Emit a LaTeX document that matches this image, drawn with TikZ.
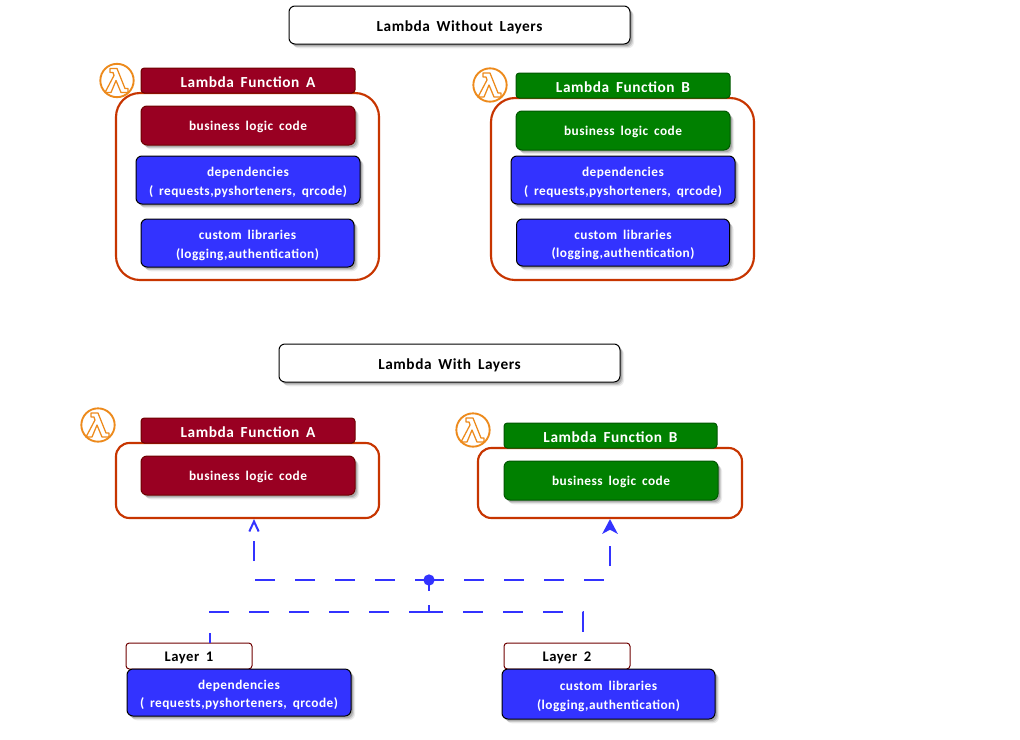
\documentclass[tikz,border=0pt]{standalone}
\usepackage{fontspec}
\setmainfont[LetterSpace=3.5,WordSpace=1.7]{Carlito}
\usetikzlibrary{arrows.meta,shadows}
\definecolor{lamred}{HTML}{990022}
\definecolor{lamreddark}{HTML}{6F0000}
\definecolor{lamgreen}{HTML}{008000}
\definecolor{lamgreendark}{HTML}{005700}
\definecolor{lamblue}{HTML}{3333FF}
\definecolor{lamorange}{HTML}{C73500}
\definecolor{iconorange}{HTML}{ED8A1C}
\tikzset{
  size/.style 2 args = {minimum width=#1*0.75pt, minimum height=#2*0.75pt},
  softshadow/.style  = {drop shadow={shadow xshift=3pt, shadow yshift=-3.2pt, opacity=0.08, fill=black},
                        drop shadow={shadow xshift=2.2pt, shadow yshift=-2.4pt, opacity=0.12, fill=black},
                        drop shadow={shadow xshift=1.4pt, shadow yshift=-1.6pt, opacity=0.16, fill=black}},
  base box/.style    = {draw, line width=0.75pt, rounded corners=4.5pt, inner sep=0pt, align=center,
                        text=white, font=\fontsize{10}{14}\selectfont\bfseries,
                        execute at begin node={\rule{0pt}{0.95em}}},
  titlebox/.style    = {base box, draw=black, fill=white, text=black, softshadow,
                        font=\fontsize{11.5}{14}\selectfont\bfseries},
  header/.style      = {base box, rounded corners=2.5pt, font=\fontsize{11.5}{14}\selectfont\bfseries},
  redhead/.style     = {header, draw=lamreddark, fill=lamred},
  greenhead/.style   = {header, draw=lamgreendark, fill=lamgreen},
  redbox/.style      = {base box, draw=lamreddark, fill=lamred, softshadow},
  greenbox/.style    = {base box, draw=lamgreendark, fill=lamgreen, softshadow},
  bluebox/.style     = {base box, draw=black, fill=lamblue, softshadow},
  layerhead/.style   = {base box, rounded corners=2.5pt, draw=lamreddark, fill=white, text=black,
                        font=\fontsize{11}{14}\selectfont\bfseries},
  container/.style   = {draw=lamorange, line width=1.6pt, fill=white, inner sep=0pt},
  icon/.style        = {circle, draw=iconorange, line width=1.4pt, fill=white, minimum size=25pt, inner sep=0pt},
  link/.style        = {draw=lamblue, line width=2pt, dash pattern=on 15pt off 15pt},
  opentip/.style     = {-{Straight Barb[length=7.5pt,width=7pt,line width=1.5pt]}},
  filltip/.style     = {-{Stealth[length=11pt,width=11.5pt,inset=3pt]}},
}
% lambda glyph of the function icon, drawn inside a named circle
\newcommand{\lambdaglyph}[1]{%
  \draw[iconorange, line width=0.95pt, line join=round, x=0.75pt, y=-0.75pt, shift={(#1)}]
    (-7,-12) -- (0,-12) -- (8,8) -- (11,8) -- (11,12) -- (4,12) -- (-1,0)
    -- (-6,12) -- (-12,12) -- (-3,-5) -- (-4,-8) -- (-7,-8) -- cycle;
}
\newcommand{\depstext}{\rule{0pt}{1.05em}dependencies\\( requests,pyshorteners, qrcode)}
\newcommand{\libstext}{\rule{0pt}{1.05em}custom libraries\\(logging,authentication)}

\begin{document}
\begin{tikzpicture}[x=0.75pt,y=-0.75pt]
  \useasboundingbox[fill=white] (0,0) rectangle (1020,739);

  % ---- without layers ----------------------------------------------------
  \node[titlebox,size={341}{38}] (titletop) at (459.5,25) {Lambda Without Layers};

  \node[container,rounded corners=18pt,size={263}{187}] (contTopA) at (247.5,186.5) {};
  \node[redhead,size={214}{25}] (headTopA) at (248,80.5) {Lambda Function A};
  \node[redbox,size={214}{39}] (codeTopA) at (248,125.5) {business logic code};
  \node[bluebox,size={224}{48}] (depsTopA) at (248,180) {\depstext};
  \node[bluebox,size={213}{48}] (libsTopA) at (247.5,243) {\libstext};
  \node[icon] (iconTopA) at (117,80.5) {};
  \lambdaglyph{iconTopA}

  \node[container,rounded corners=18pt,size={263}{182}] (contTopB) at (622.5,189) {};
  \node[greenhead,size={214}{25}] (headTopB) at (623,85.5) {Lambda Function B};
  \node[greenbox,size={214}{39}] (codeTopB) at (623,130.5) {business logic code};
  \node[bluebox,size={224}{48}] (depsTopB) at (623,180) {\depstext};
  \node[bluebox,size={213}{47}] (libsTopB) at (623,242.5) {\libstext};
  \node[icon] (iconTopB) at (490,85) {};
  \lambdaglyph{iconTopB}

  % ---- with layers -------------------------------------------------------
  \node[titlebox,size={341}{38}] (titlelow) at (449.5,363) {Lambda With Layers};

  \node[container,rounded corners=10pt,size={263}{75}] (contA) at (247.5,480.5) {};
  \node[redhead,size={214}{25}] (headA) at (248,430.5) {Lambda Function A};
  \node[redbox,size={214}{39}] (codeA) at (248,475.5) {business logic code};
  \node[icon] (iconA) at (98,425) {};
  \lambdaglyph{iconA}

  \node[container,rounded corners=10pt,size={264}{70}] (contB) at (610,483) {};
  \node[greenhead,size={213}{25}] (headB) at (610.5,435.5) {Lambda Function B};
  \node[greenbox,size={214}{39}] (codeB) at (611,480.5) {business logic code};
  \node[icon] (iconB) at (473,430) {};
  \lambdaglyph{iconB}

  \node[layerhead,size={126}{26}] (layerone) at (189,656) {Layer 1};
  \node[bluebox,size={224}{47}] (depsLow) at (239,692.5) {\depstext};
  \node[layerhead,size={126}{26}] (layertwo) at (567,656) {Layer 2};
  \node[bluebox,size={213}{50}] (libsLow) at (608.5,694) {\libstext};

  % ---- connectors --------------------------------------------------------
  \node[circle,fill=lamblue,inner sep=0pt,minimum size=8.5pt] (hub) at (429,580) {};
  \coordinate (split) at (429,612);
  \coordinate (cornerA) at (254,580);
  \coordinate (cornerB) at (610,580);
  \coordinate (cornerone) at (210,612);
  \coordinate (cornertwo) at (583,612);
  \draw[link,opentip,dash phase=4.5pt] (hub.center) -- (cornerA) -- (cornerA |- contA.south);
  \draw[link,filltip,dash phase=3.75pt] (hub.center) -- (cornerB) -- (cornerB |- contB.south);
  \draw[link,dash pattern=on 8.25pt off 10.5pt on 5.25pt off 0pt] (hub.center) -- (split);
  \draw[link] (split) -- (cornerone) -- (cornerone |- layerone.north);
  \draw[link,dash phase=21.75pt] (cornertwo |- layertwo.north) -- (cornertwo) -- (split);
\end{tikzpicture}
\end{document}
